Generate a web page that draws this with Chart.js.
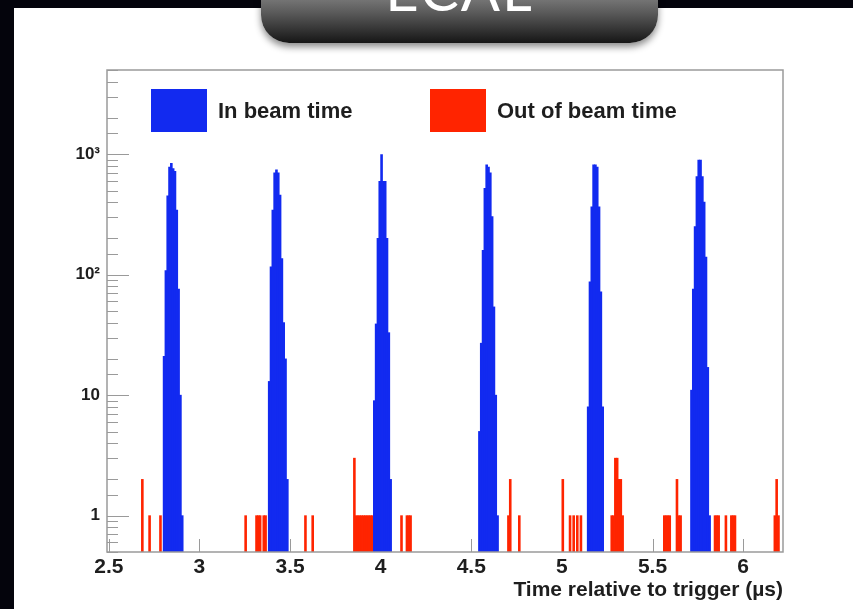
<!DOCTYPE html>
<html>
<head>
<meta charset="utf-8">
<script src="https://cdn.jsdelivr.net/npm/chart.js@4.4.1/dist/chart.umd.min.js"></script>
<style>
  body { margin: 0; width: 853px; height: 609px; overflow: hidden; position: relative; background: #04040c; }
  #panel { position: absolute; left: 14px; top: 8px; right: 0; bottom: 0; background: #fff; }
  #tab { position: absolute; left: 261px; top: -12px; width: 397px; height: 55px; border-radius: 0 0 28px 28px;
         background: linear-gradient(#8c8c8c, #5a5a5a 45%, #161616); box-shadow: 0 4px 7px rgba(0,0,0,0.45); overflow: hidden; }
  #tab span { position: absolute; left: 0; right: 0; top: -28px; text-align: center; color: #fff;
              font: 58px/58px Lato, "Open Sans", sans-serif; letter-spacing: 2px; }
  #chart { position: absolute; left: 0; top: 0; }
  #legend { position: absolute; left: 151px; top: 89px; display: flex; font: bold 22px "Liberation Sans", Arial, sans-serif; color: #1e1e1e; }
  #legend .item { display: flex; align-items: center; width: 279px; }
  #legend .box { width: 56px; height: 43px; margin-right: 11px; }
</style>
</head>
<body>
<div id="panel"></div>
<div id="tab"><span>ECAL</span></div>
<canvas id="chart" width="853" height="609"></canvas>
<div id="legend"></div>
<script>
// bin centres (µs), bin width 0.01
const inBeamTime = [
  2.805, 2.815, 2.825, 2.835, 2.845, 2.855, 2.865, 2.875, 2.885, 2.895, 2.905,
  3.385, 3.395, 3.405, 3.415, 3.425, 3.435, 3.445, 3.455, 3.465, 3.475, 3.485,
  3.965, 3.975, 3.985, 3.995, 4.005, 4.015, 4.025, 4.035, 4.045, 4.055,
  4.545, 4.555, 4.565, 4.575, 4.585, 4.595, 4.605, 4.615, 4.625, 4.635, 4.645,
  5.145, 5.155, 5.165, 5.175, 5.185, 5.195, 5.205, 5.215, 5.225,
  5.715, 5.725, 5.735, 5.745, 5.755, 5.765, 5.775, 5.785, 5.795, 5.805, 5.815
];
const inBeamCounts = [
  21, 108, 450, 780, 840, 760, 720, 343, 76, 10, 1,
  13, 116, 343, 700, 740, 700, 458, 136, 40, 20, 2,
  9, 39, 200, 594, 990, 594, 594, 200, 33, 2,
  5, 27, 159, 521, 814, 780, 700, 303, 54, 10, 1,
  8, 87, 366, 814, 814, 780, 366, 72, 8,
  11, 76, 250, 650, 894, 894, 650, 400, 140, 17, 1
];
const outBeamTime = [
  2.685, 2.725, 2.785,
  3.255, 3.315, 3.325, 3.335, 3.355, 3.365, 3.585, 3.625,
  3.855, 3.865, 3.875, 3.885, 3.895, 3.905, 3.915, 3.925, 3.935, 3.945, 3.955,
  4.115, 4.145, 4.155, 4.165,
  4.705, 4.715, 4.765,
  5.005, 5.045, 5.065, 5.085, 5.105,
  5.275, 5.285, 5.295, 5.305, 5.315, 5.325, 5.335,
  5.565, 5.575, 5.585, 5.595, 5.635, 5.645, 5.655,
  5.845, 5.855, 5.865, 5.905, 5.935, 5.945, 5.955,
  6.175, 6.185, 6.195
];
const outBeamCounts = [
  2, 1, 1,
  1, 1, 1, 1, 1, 1, 1, 1,
  3, 1, 1, 1, 1, 1, 1, 1, 1, 1, 1,
  1, 1, 1, 1,
  1, 2, 1,
  2, 1, 1, 1, 1,
  1, 1, 3, 3, 2, 2, 1,
  1, 1, 1, 1, 2, 1, 1,
  1, 1, 1, 1, 1, 1, 1,
  1, 2, 1
];
const seriesNames = ['In beam time', 'Out of beam time'];
const seriesColors = ['rgb(18,42,240)', 'rgb(255,36,0)'];
const decadeLabels = { 0: '1', 1: '10', 2: '10²', 3: '10³' };

const labelFont = { family: 'Liberation Sans, Arial, sans-serif', weight: 'bold', size: 21 };
const inkColor = '#1e1e1e';
const axisGrey = '#9a9a9a';

function toPoints(xs, ys) {
  return xs.map((x, i) => ({ x: x, y: ys[i] }));
}

// ROOT-style frame and inward tick marks
const rootFrame = {
  id: 'rootFrame',
  beforeDatasetsDraw(chart) {
    const { ctx, chartArea: a, scales: { x } } = chart;
    ctx.save();
    ctx.strokeStyle = axisGrey;
    ctx.lineWidth = 1;
    ctx.beginPath();
    x.ticks.forEach(t => {
      const px = Math.round(x.getPixelForValue(t.value)) + 0.5;
      ctx.moveTo(px, a.bottom);
      ctx.lineTo(px, a.bottom - 13);
    });
    ctx.stroke();
    ctx.restore();
  },
  afterDatasetsDraw(chart) {
    const { ctx, chartArea: a, scales: { y } } = chart;
    ctx.save();
    ctx.strokeStyle = axisGrey;
    ctx.lineWidth = 1;
    ctx.beginPath();
    y.ticks.forEach(t => {
      const py = Math.round(y.getPixelForValue(t.value)) + 0.5;
      const lg = Math.log10(t.value);
      const len = Math.abs(lg - Math.round(lg)) < 1e-9 ? 22 : 11;
      ctx.moveTo(a.left, py);
      ctx.lineTo(a.left + len, py);
    });
    ctx.stroke();
    ctx.lineWidth = 1.5;
    ctx.strokeRect(a.left, a.top, a.right - a.left, a.bottom - a.top);
    ctx.restore();
  }
};

const chart = new Chart(document.getElementById('chart'), {
  type: 'bar',
  data: {
    datasets: [
      {
        label: seriesNames[0],
        data: toPoints(inBeamTime, inBeamCounts),
        backgroundColor: seriesColors[0],
        grouped: false,
        base: 0.5,
        barPercentage: 1,
        categoryPercentage: 1,
        borderWidth: 0,
        inflateAmount: 0.4
      },
      {
        label: seriesNames[1],
        data: toPoints(outBeamTime, outBeamCounts),
        backgroundColor: seriesColors[1],
        grouped: false,
        base: 0.5,
        barPercentage: 1,
        categoryPercentage: 1,
        borderWidth: 0,
        inflateAmount: 0.4
      }
    ]
  },
  options: {
    responsive: false,
    animation: false,
    layout: { padding: { left: 0, top: 70, right: 70, bottom: 6 } },
    plugins: { legend: { display: false }, tooltip: { enabled: false } },
    scales: {
      x: {
        type: 'linear',
        offset: false,
        min: 2.49,
        max: 6.22,
        grid: { display: false, drawTicks: false, offset: false },
        border: { display: false },
        ticks: {
          stepSize: 0.5, includeBounds: false, padding: 3, color: inkColor, font: labelFont, maxRotation: 0,
          callback(value) { return String(value); }
        },
        title: { display: true, text: 'Time relative to trigger (µs)', align: 'end', color: inkColor, font: labelFont, padding: 0 },
        afterFit(scale) { scale.height = 51; }
      },
      y: {
        type: 'logarithmic',
        min: 0.5,
        max: 5000,
        grid: { display: false, drawTicks: false },
        border: { display: false },
        ticks: {
          autoSkip: false,
          padding: 7,
          color: inkColor,
          font: { family: labelFont.family, weight: 'bold', size: 17 },
          callback(value) {
            const lg = Math.log10(value);
            if (Math.abs(lg - Math.round(lg)) < 1e-9) return decadeLabels[Math.round(lg)] || '';
            return '';
          }
        },
        afterFit(scale) { scale.width = 107; }
      }
    }
  },
  plugins: [rootFrame]
});

// legend built from the chart's datasets
const legend = document.getElementById('legend');
chart.data.datasets.forEach(ds => {
  const item = document.createElement('div');
  item.className = 'item';
  const box = document.createElement('div');
  box.className = 'box';
  box.style.background = ds.backgroundColor;
  const text = document.createElement('span');
  text.textContent = ds.label;
  item.appendChild(box);
  item.appendChild(text);
  legend.appendChild(item);
});
</script>
</body>
</html>
